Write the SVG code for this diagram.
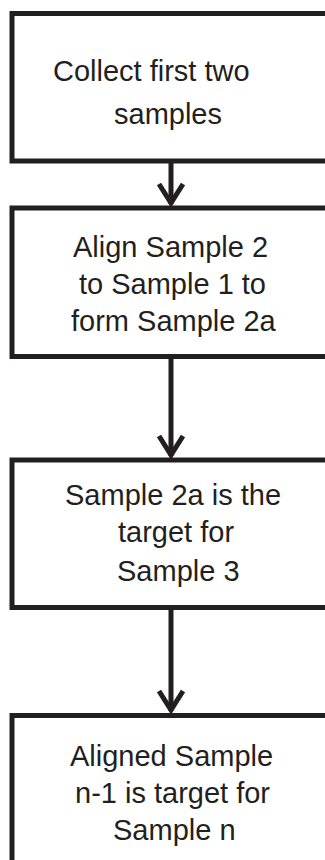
<svg xmlns="http://www.w3.org/2000/svg" width="325" height="860" viewBox="0 0 325 860">
  <style>
    .box { fill: #ffffff; stroke: #231f20; stroke-width: 5; stroke-linejoin: miter; }
    .lbl { font-family: "Liberation Sans", Arial, sans-serif; font-size: 29px; fill: #231f20; }
    .wire { stroke: #231f20; stroke-width: 5; fill: none; }
    .head { stroke: #231f20; stroke-width: 5; fill: none; stroke-linejoin: miter; }
  </style>
  <rect width="325" height="860" fill="#ffffff"/>

  <g id="step-collect">
    <rect class="box" x="12" y="13.5" width="340" height="147.5"/>
    <text class="lbl" x="53" y="81">Collect first two</text>
    <text class="lbl" x="114" y="124">samples</text>
  </g>

  <g id="step-align">
    <rect class="box" x="12" y="208" width="340" height="148.5"/>
    <text class="lbl" x="73" y="257">Align Sample 2</text>
    <text class="lbl" x="79" y="294">to Sample 1 to</text>
    <text class="lbl" x="71" y="331">form Sample 2a</text>
  </g>

  <g id="step-target3">
    <rect class="box" x="12" y="460" width="340" height="147.5"/>
    <text class="lbl" x="65" y="505">Sample 2a is the</text>
    <text class="lbl" x="118" y="542">target for</text>
    <text class="lbl" x="117" y="581">Sample 3</text>
  </g>

  <g id="step-targetn">
    <rect class="box" x="12" y="715.5" width="340" height="200"/>
    <text class="lbl" x="70" y="766">Aligned Sample</text>
    <text class="lbl" x="75" y="803">n-1 is target for</text>
    <text class="lbl" x="113" y="840">Sample n</text>
  </g>

  <g id="connectors">
    <line class="wire" x1="171" y1="161" x2="171" y2="204"/>
    <polyline class="head" points="159,184 171,203 183,184"/>
    <line class="wire" x1="171" y1="357" x2="171" y2="456"/>
    <polyline class="head" points="159,436 171,455 183,436"/>
    <line class="wire" x1="171" y1="608" x2="171" y2="711"/>
    <polyline class="head" points="159,691 171,710 183,691"/>
  </g>
</svg>
